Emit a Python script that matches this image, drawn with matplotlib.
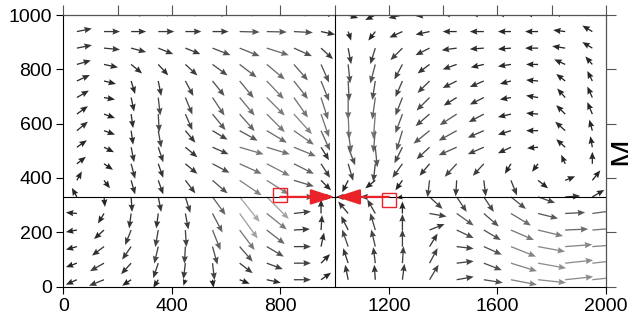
import numpy as np
import matplotlib
matplotlib.use("Agg")
import matplotlib.pyplot as plt
import matplotlib.colors as mcolors

plt.rcParams['font.family'] = ['Liberation Sans', 'DejaVu Sans']

# grid of arrow tails
x_grid = [50, 150, 250, 350, 450, 550, 650, 750, 850, 950,
          1050, 1150, 1250, 1350, 1450, 1550, 1650, 1750, 1850, 1950]
y_grid = [1000, 939, 878, 818, 757, 696, 635, 574, 513,
          452, 391, 330, 269, 208, 147, 86, 25]

# vector components, one list per row (top row first)
u_rows = [
    [14, 16, 15, 16, 16, 16, 19, 20, 18, 14, 10, -10, -14, -14, -14, -13, -14, -13, -12, -10],
    [15, 16, 15, 16, 16, 16, 20, 20, 19, 14, 3, -7, -13, -14, -14, -14, -13, -13, -12, -10],
    [15, 16, 15, 15, 15, 18, 20, 22, 18, 12, 3, -5, -12, -14, -15, -14, -13, -13, -13, -10],
    [14, 14, 11, 10, 12, 15, 17, 18, 14, 8, 2, -5, -8, -12, -14, -13, -13, -12, -11, -7],
    [13, 12, 4, 3, 8, 12, 14, 17, 14, 8, 1, -3, -7, -12, -14, -14, -11, -12, -9, -5],
    [12, 11, 3, 2, 7, 12, 15, 18, 14, 7, 0, -3, -7, -13, -13, -14, -11, -12, -8, -5],
    [11, 11, 2, 1, 7, 13, 15, 18, 18, 8, 1, -2, -7, -14, -17, -15, -13, -12, -9, -5],
    [11, 11, 2, 3, 10, 15, 18, 20, 20, 9, 3, -2, -6, -16, -18, -16, -13, -12, -10, -3],
    [10, 10, 3, 5, 12, 16, 24, 23, 22, 8, 7, 2, -8, -13, -18, -16, -13, -11, -9, -2],
    [9, 9, 4, 5, 12, 17, 22, 23, 20, 9, 5, -2, -10, -10, -12, -11, -6, -6, -4, 0],
    [5, 6, 4, 5, 10, 15, 22, 22, 20, 10, -6, -10, -7, -2, -1, 2, 6, 10, 10, 8],
    [-5, 1, 1, 3, 5, 13, 20, 22, 20, 12, -12, -15, -6, 13, 10, 10, 15, 17, 15, 12],
    [-11, -6, -2, -2, 3, 10, 18, 20, 17, 0, -10, -8, 0, 17, 17, 15, 20, 20, 20, 22],
    [-11, -10, -6, -3, 1, 8, 15, 18, 16, 1, -7, -5, 0, 15, 17, 17, 23, 25, 23, 25],
    [-11, -12, -9, -4, -1, 5, 13, 17, 17, 3, -6, -4, 0, 8, 17, 18, 25, 27, 27, 27],
    [-11, -14, -10, -5, -2, 2, 13, 16, 17, 9, -5, -2, 1, 8, 17, 18, 26, 28, 28, 28],
    [-11, -15, -9, -5, -2, 1, 10, 14, 17, 10, -3, -1, 2, 9, 17, 19, 26, 28, 28, 28],
]
v_rows = [
    [4, 3, 2.5, 2.5, 2.5, 2, 2.5, 2.5, 2.5, 2, -3, -5, -3, -1, 1.5, 1.5, 1.5, 1.5, 2.5, 4.5],
    [3, 0, 0, 0, 0, 0, -0.5, -0.5, -1, -3, -9, -9, -6, -3, 0, 0, 0, 0, 1.5, 6],
    [3, -1.5, -4, -6, -6, -7, -8, -7, -8, -11, -16, -16, -12, -7, -2, -1, -1, 0, 2, 6],
    [4, -3, -9, -11, -11, -11, -13, -15, -16, -18, -19, -19, -15, -9, -5, -3, -2, 0, 5, 8],
    [6, -3, -13, -15, -15, -15, -17, -18, -18, -20, -20, -19, -16, -12, -7, -6, -3, 1, 7, 10],
    [7, -2, -14, -18, -17, -18, -18, -18, -20, -22, -22, -22, -18, -13, -8, -7, -2, 2, 9, 11],
    [8, -4, -14, -18, -16, -16, -17, -18, -20, -23, -25, -25, -19, -12, -11, -8, -3, 1, 9, 12],
    [9, -4, -14, -17, -12, -9, -10, -12, -14, -20, -22, -22, -20, -13, -10, -7, -4, 0, 9, 11],
    [7, -5, -15, -15, -10, -7, -7, -7, -9, -13, -18, -20, -16, -12, -8, -7, -6, -1, 8, 11],
    [7, -6, -15, -14, -10, -9, -10, -12, -10, -14, -17, -18, -14, -12, -13, -12, -10, -8, 9, 12],
    [9, -8, -14, -14, -13, -13, -15, -14, -6, -10, -12, -8, -10, -17, -16, -16, -15, -8, 4, 10],
    [9, -10, -15, -15, -16, -18, -25, -22, 0, 0, 0, 0, -1, -12, -15, -15, -12, -6, 1, 7],
    [1, -10, -15, -15, -16, -19, -25, -16, 2, 14, 12, 14, 12, -3, -12, -13, -12, -5, 1, 3],
    [-2, -9, -15, -17, -17, -20, -20, -14, 1, 15, 14, 17, 16, 6, -8, -10, -10, -6, 1, 2],
    [-3, -9, -13, -17, -17, -18, -15, -10, 0, 14, 17, 17, 17, 13, -2, -8, -10, -5, 2, 2],
    [-4, -8, -11, -15, -16, -17, -10, -6, 0, 9, 15, 16, 17, 15, 2, -7, -8, -5, 3, 3],
    [-5, -6, -6, -8, -6, -8, -4, -3, 0, 7, 15, 15, 16, 15, 3, -3, -5, -3, 3, 3],
]

# highlighted points and the two red arrows
marker_x = [800, 1200]
marker_y = [337, 320]
red_start = [800, 1200]
red_end = [1000, 1006]
red_y = 330

U = np.array(u_rows, dtype=float)
V = np.array(v_rows, dtype=float)
XX, YY = np.meshgrid(x_grid, y_grid)
mag = np.hypot(U, V)

fig = plt.figure(figsize=(6.28, 3.22), dpi=100)
ax = fig.add_axes([0.1008, 0.1102, 0.864, 0.8432])

gray = mcolors.LinearSegmentedColormap.from_list('g', ['#262626', '#b4b4b4'])
ax.quiver(XX, YY, U, V, mag, cmap=gray, norm=mcolors.Normalize(13, 34),
          angles='xy', scale_units='xy', scale=0.2713, pivot='tail',
          width=0.0024, headwidth=4.8, headlength=5.8, headaxislength=5.2,
          zorder=2)

ax.axhline(red_y, color='black', lw=0.8, zorder=3)
ax.axvline(1000, color='black', lw=0.8, zorder=3)

for xs, xe in zip(red_start, red_end):
    ax.annotate('', xy=(xe, red_y), xytext=(xs, red_y),
                arrowprops=dict(arrowstyle='-|>,head_length=1.45,head_width=0.47',
                                color='#ec2229', lw=1.6, shrinkA=0, shrinkB=0),
                zorder=5)
ax.plot(marker_x, marker_y, 's', ms=9.5, mfc='none', mec='#ec2229', mew=1.0, zorder=6)

ax.set_xlim(0, 2000)
ax.set_ylim(0, 1000)
ax.set_xticks(range(0, 2001, 400))
ax.set_yticks(range(0, 1001, 200))
ax.tick_params(direction='out', length=5, width=0.8, labelsize=14, pad=3)

for s in ['left', 'bottom']:
    ax.spines[s].set_color('black')
for s in ['top', 'right']:
    ax.spines[s].set_color('#555555')

top = ax.secondary_xaxis('top')
top.set_xticks(range(0, 2001, 200))
top.tick_params(direction='out', length=7, width=0.8, colors='#555555', labeltop=False)
right = ax.secondary_yaxis('right')
right.set_yticks(range(0, 1001, 200))
right.tick_params(direction='out', length=7, width=0.8, colors='#555555', labelright=False)

# right-hand label, partly beyond the figure edge as in the original
fig.text(0.969, 0.531, 'M', rotation=90, ha='left', va='center', fontsize=24)

fig.savefig('out.png', dpi=100)
